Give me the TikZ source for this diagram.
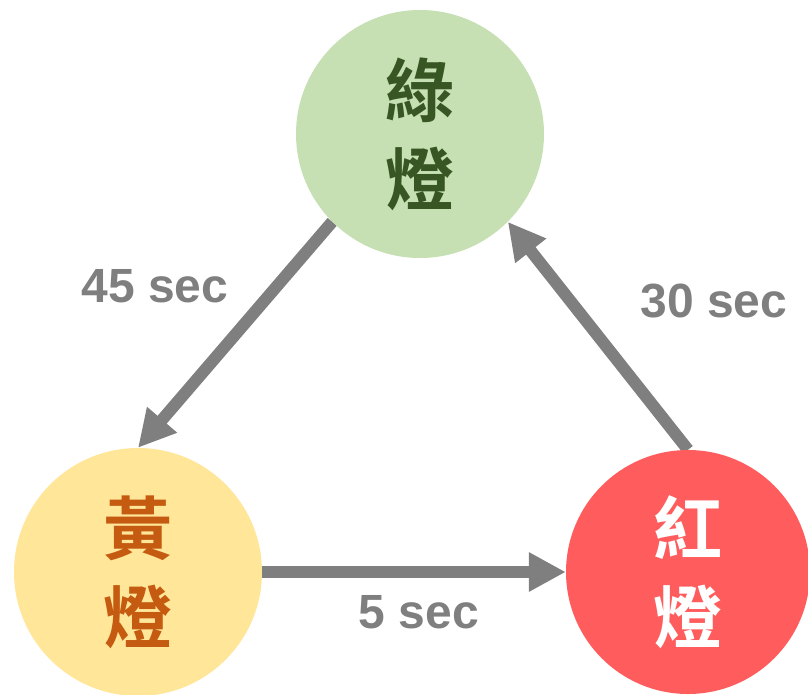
\documentclass[tikz,border=0pt]{standalone}
\usepackage{fontspec}
\setmainfont{Liberation Sans}
\newfontfamily\cjkfont{Noto Sans CJK TC}[BoldFont={* Bold}]
\usetikzlibrary{arrows.meta,backgrounds}
\definecolor{arrowgrey}{HTML}{7F7F7F}
\definecolor{greenfill}{HTML}{C6E0B4}
\definecolor{greentext}{HTML}{375623}
\definecolor{yellowfill}{HTML}{FFE699}
\definecolor{yellowtext}{HTML}{C55A11}
\definecolor{redfill}{HTML}{FF5D5D}
\tikzset{
  light/.style={circle, inner sep=0pt, minimum size=#1, align=center,
    font=\cjkfont\bfseries\fontsize{69}{89}\selectfont},
  flow/.style={draw=arrowgrey, line width=12pt,
    -{Triangle[length=37pt,width=37pt]}},
  timelabel/.style={anchor=base, text=arrowgrey,
    font=\bfseries\fontsize{48}{56}\selectfont, inner sep=0pt}
}
\begin{document}
\begin{tikzpicture}[x=1pt,y=-1pt]
\useasboundingbox (0,0) rectangle (808,694);
\node[light=248pt, fill=greenfill, text=greentext] (green) at (420,134) {綠\\燈};
\node[light=248pt, fill=yellowfill, text=yellowtext] (yellow) at (138,572) {黃\\燈};
\node[light=244pt, fill=redfill, text=white] (red) at (688,572) {紅\\燈};
\begin{scope}[on background layer]
\draw[flow] (green.south west) -- (yellow.north);
\draw[flow] (yellow.east) -- (red.west);
\draw[flow] (red.north) -- (green.south east);
\end{scope}
\node[timelabel] (l45) at (155,302) {45 sec};
\node[timelabel] (l5) at (419,628) {5 sec};
\node[timelabel] (l30) at (714,317) {30 sec};
\end{tikzpicture}
\end{document}
